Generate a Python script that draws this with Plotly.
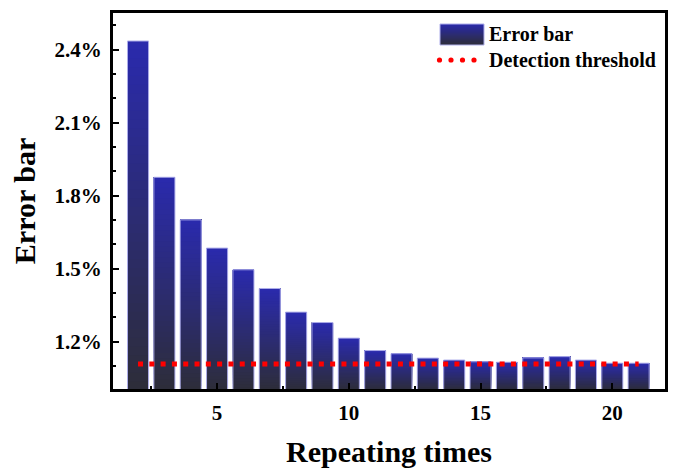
import plotly.graph_objects as go

# ---- data ----
repeats = list(range(2, 22))
error_pct = [2.435, 1.875, 1.700, 1.584, 1.495, 1.418, 1.321, 1.278, 1.214, 1.163,
             1.150, 1.132, 1.124, 1.117, 1.115, 1.133, 1.138, 1.124, 1.111, 1.111]
threshold_pct = 1.108
threshold_x = [2, 21]
y_ticks = [1.2, 1.5, 1.8, 2.1, 2.4]
y_tick_labels = ["1.2%", "1.5%", "1.8%", "2.1%", "2.4%"]
x_ticks = [5, 10, 15, 20]
base_pct = 1.0

# ---- style ----
TOP = (42, 42, 175)
BOTTOM = (45, 45, 58)
OUTLINE = "rgb(175,175,235)"
N_STEPS = 40
FONT = "Liberation Serif"
OFF = 8  # page body margin offset


def mix(t):
    r = [round(BOTTOM[i] + (TOP[i] - BOTTOM[i]) * t) for i in range(3)]
    return "rgb({},{},{})".format(*r)


# gradient bars: overlapping layers, each starting a little higher
gx, gbase, gh, gcol = [], [], [], []
for k in range(N_STEPS):
    t = k / N_STEPS
    for x, v in zip(repeats, error_pct):
        b = base_pct + (v - base_pct) * t
        gx.append(x)
        gbase.append(b)
        gh.append(v - b)
        gcol.append(mix(t))

fig = go.Figure()
fig.add_trace(go.Bar(x=gx, y=gh, base=gbase, width=0.8,
                     marker=dict(color=gcol, line=dict(width=0)),
                     showlegend=False, hoverinfo="skip"))
fig.add_trace(go.Bar(x=repeats, y=[v - base_pct for v in error_pct], base=base_pct,
                     width=0.8, name="Error bar",
                     marker=dict(color="rgba(0,0,0,0)", line=dict(color=OUTLINE, width=1)),
                     showlegend=False))
fig.add_trace(go.Scatter(x=threshold_x, y=[threshold_pct] * len(threshold_x),
                         mode="lines", name="Detection threshold",
                         line=dict(color="red", width=5, dash="5px,6.3px"),
                         showlegend=False))

# ---- manual legend (page pixel -> paper) ----
L, R, T, B = 113, 665, 13, 389
W, H = R - L, B - T
FIG_W, FIG_H = 677 - OFF, 468 - OFF


def px(x):
    return (x - L) / W


def py(y):
    return (B - y) / H


shapes = []
n_leg = 20
y0, y1 = 24, 45
for k in range(n_leg):
    t = k / n_leg
    ya = y1 - (y1 - y0) * t
    shapes.append(dict(type="rect", xref="paper", yref="paper",
                       x0=px(440), x1=px(484), y0=py(ya), y1=py(y0),
                       fillcolor=mix(t), line=dict(width=0), layer="above"))
shapes.append(dict(type="rect", xref="paper", yref="paper",
                   x0=px(440), x1=px(484), y0=py(y1), y1=py(y0),
                   fillcolor="rgba(0,0,0,0)", line=dict(color=OUTLINE, width=1), layer="above"))
for cx in [439.5, 451, 462.5, 474]:
    shapes.append(dict(type="circle", xref="paper", yref="paper",
                       x0=px(cx - 2.6), x1=px(cx + 2.6), y0=py(60 + 2.6), y1=py(60 - 2.6),
                       fillcolor="red", line=dict(width=0), layer="above"))

annotations = [
    dict(text="Error bar", xref="paper", yref="paper", x=px(487), y=py(34.5),
         xanchor="left", yanchor="middle", showarrow=False,
         font=dict(family=FONT, size=20, color="black", weight="bold")),
    dict(text="Detection threshold", xref="paper", yref="paper", x=px(487), y=py(60),
         xanchor="left", yanchor="middle", showarrow=False,
         font=dict(family=FONT, size=20, color="black", weight="bold")),
]

tickfont = dict(family=FONT, size=21, color="black", weight="bold")
titlefont = dict(family=FONT, size=30, color="black", weight="bold")

fig.update_layout(
    width=FIG_W, height=FIG_H,
    margin=dict(l=L - OFF, r=FIG_W - (R - OFF), t=T - OFF, b=FIG_H - (B - OFF)),
    paper_bgcolor="white", plot_bgcolor="white",
    barmode="overlay",
    shapes=shapes, annotations=annotations,
    xaxis=dict(range=[1.05, 22.0], tickvals=x_ticks, ticks="inside", ticklen=6, tickwidth=2,
               tickcolor="black", showline=True, linewidth=3, linecolor="black", mirror=True,
               showgrid=False, zeroline=False, tickfont=tickfont, ticklabelstandoff=3,
               automargin=False,
               minor=dict(tickvals=[2.5, 7.5, 12.5, 17.5], ticks="inside", ticklen=3,
                          tickwidth=2, tickcolor="black"),
               title=dict(text="Repeating times", font=titlefont, standoff=19)),
    yaxis=dict(range=[1.005, 2.55], tickvals=y_ticks, ticktext=y_tick_labels,
               ticks="inside", ticklen=6, tickwidth=2, tickcolor="black",
               showline=True, linewidth=3, linecolor="black", mirror=True,
               showgrid=False, zeroline=False, tickfont=tickfont, ticklabelstandoff=4,
               automargin=False,
               minor=dict(dtick=0.1, tick0=1.2, ticks="inside", ticklen=3,
                          tickwidth=2, tickcolor="black"),
               title=dict(text="Error bar", font=titlefont, standoff=16)),
)

fig.write_html("out.html")
